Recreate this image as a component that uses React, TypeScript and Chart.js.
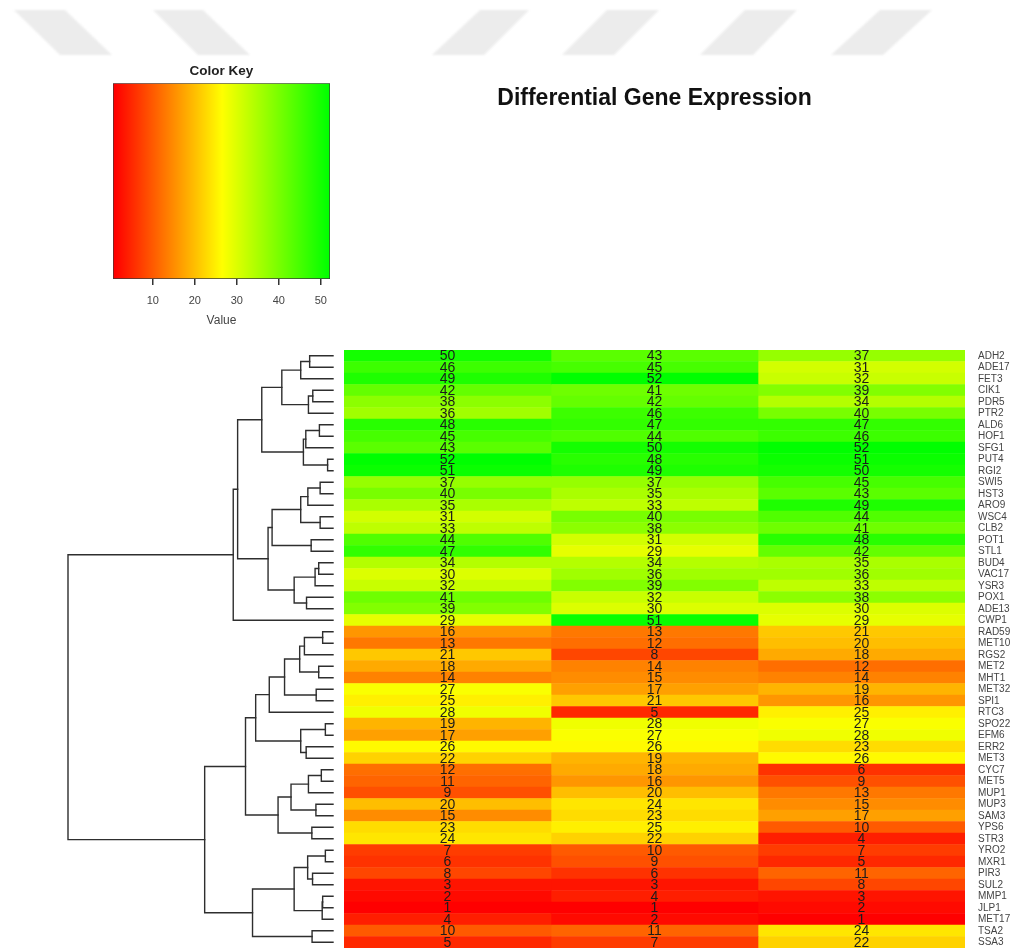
import React, { useEffect, useRef } from "react";
import { Chart, registerables } from "chart.js";

Chart.register(...registerables);

// ---------------- data ----------------
const genes = [
  "ADH2", "ADE17", "FET3", "CIK1", "PDR5", "PTR2", "ALD6", "HOF1", "SFG1", "PUT4",
  "RGI2", "SWI5", "HST3", "ARO9", "WSC4", "CLB2", "POT1", "STL1", "BUD4", "VAC17",
  "YSR3", "POX1", "ADE13", "CWP1", "RAD59", "MET10", "RGS2", "MET2", "MHT1", "MET32",
  "SPI1", "RTC3", "SPO22", "EFM6", "ERR2", "MET3", "CYC7", "MET5", "MUP1", "MUP3",
  "SAM3", "YPS6", "STR3", "YRO2", "MXR1", "PIR3", "SUL2", "MMP1", "JLP1", "MET17",
  "TSA2", "SSA3",
];
const sample1 = [
  50, 46, 49, 42, 38, 36, 48, 45, 43, 52,
  51, 37, 40, 35, 31, 33, 44, 47, 34, 30,
  32, 41, 39, 29, 16, 13, 21, 18, 14, 27,
  25, 28, 19, 17, 26, 22, 12, 11, 9, 20,
  15, 23, 24, 7, 6, 8, 3, 2, 1, 4,
  10, 5,
];
const sample2 = [
  43, 45, 52, 41, 42, 46, 47, 44, 50, 48,
  49, 37, 35, 33, 40, 38, 31, 29, 34, 36,
  39, 32, 30, 51, 13, 12, 8, 14, 15, 17,
  21, 5, 28, 27, 26, 19, 18, 16, 20, 24,
  23, 25, 22, 10, 9, 6, 3, 4, 1, 2,
  11, 7,
];
const sample3 = [
  37, 31, 32, 39, 34, 40, 47, 46, 52, 51,
  50, 45, 43, 49, 44, 41, 48, 42, 35, 36,
  33, 38, 30, 29, 21, 20, 18, 12, 14, 19,
  16, 25, 27, 28, 23, 26, 6, 9, 13, 15,
  17, 10, 4, 7, 5, 11, 8, 3, 2, 1,
  24, 22,
];
const samples = [sample1, sample2, sample3];
const keyTicks = [10, 20, 30, 40, 50];
const valueMin = 1;
const valueMax = 52;

const FONT = "'Liberation Sans', Arial, Helvetica, sans-serif";

function colorFor(v: number): string {
  const t = (v - valueMin) / (valueMax - valueMin);
  if (t <= 0.5) return `rgb(255,${Math.round(510 * t)},0)`;
  return `rgb(${Math.round(255 * (1 - (t - 0.5) * 2))},255,0)`;
}

// complete-linkage hierarchical clustering (Euclidean), as hclust does
type Node = { leaf?: number; left?: Node; right?: Node; h: number };
function clusterRows(rows: number[][]): Node {
  const n = rows.length;
  const d: number[][] = [];
  for (let i = 0; i < n; i++) {
    d.push([]);
    for (let j = 0; j < n; j++) {
      let s = 0;
      for (let k = 0; k < rows[i].length; k++) s += (rows[i][k] - rows[j][k]) ** 2;
      d[i].push(Math.sqrt(s));
    }
  }
  const nodes: (Node | null)[] = rows.map((_, i) => ({ leaf: i, h: 0 }));
  let active = n;
  while (active > 1) {
    let bi = -1, bj = -1, best = Infinity;
    for (let i = 0; i < n; i++) {
      if (!nodes[i]) continue;
      for (let j = i + 1; j < n; j++) {
        if (!nodes[j]) continue;
        if (d[i][j] < best) { best = d[i][j]; bi = i; bj = j; }
      }
    }
    nodes[bi] = { left: nodes[bi]!, right: nodes[bj]!, h: best };
    nodes[bj] = null;
    for (let k = 0; k < n; k++) {
      if (!nodes[k] || k === bi) continue;
      const m = Math.max(d[bi][k], d[bj][k]);
      d[bi][k] = m; d[k][bi] = m;
    }
    active--;
  }
  return nodes.find((x) => x) as Node;
}

const rowVectors = genes.map((_, i) => samples.map((s) => s[i]));
const rowTree = clusterRows(rowVectors);

// ---------------- plugins ----------------
const watermarkPlugin = {
  id: "watermark",
  beforeDraw(chart: any) {
    const ctx = chart.ctx;
    ctx.save();
    ctx.filter = "blur(1.2px)";
    ctx.fillStyle = "#ececec";
    const shapes = [
      [14, 65, 60, 112],
      [153, 203, 198, 250],
      [480, 529, 432, 484],
      [607, 659, 562, 614],
      [745, 797, 700, 753],
      [880, 932, 831, 883],
    ];
    const yTop = 10, yBot = 55;
    for (const [a, b, c, e] of shapes) {
      ctx.beginPath();
      ctx.moveTo(a, yTop);
      ctx.lineTo(b, yTop);
      ctx.lineTo(e, yBot);
      ctx.lineTo(c, yBot);
      ctx.closePath();
      ctx.fill();
    }
    ctx.restore();
  },
};

const cellTextPlugin = {
  id: "cellText",
  afterDatasetsDraw(chart: any) {
    const ctx = chart.ctx;
    const xs = chart.scales.x;
    const ys = chart.scales.y;
    ctx.save();
    ctx.font = `14px ${FONT}`;
    ctx.fillStyle = "#1c1c1c";
    ctx.textAlign = "center";
    ctx.textBaseline = "middle";
    samples.forEach((vals, j) => {
      const x = xs.getPixelForValue(j + 0.5);
      vals.forEach((v, i) => {
        ctx.fillText(String(v), x, ys.getPixelForValue(i) + 0.5);
      });
    });
    ctx.restore();
  },
};

const dendroPlugin = {
  id: "dendro",
  afterDraw(chart: any) {
    const ctx = chart.ctx;
    const ys = chart.scales.y;
    const leafX = chart.chartArea.left - 11;
    const rootX = 68;
    const rootH = rowTree.h;
    const xFor = (h: number) => leafX - (h / rootH) * (leafX - rootX);
    ctx.save();
    ctx.strokeStyle = "#2e2e2e";
    ctx.lineWidth = 1.4;
    ctx.lineCap = "square";
    const walk = (node: Node): { x: number; y: number } => {
      if (node.leaf !== undefined) return { x: leafX, y: ys.getPixelForValue(node.leaf) };
      const a = walk(node.left!);
      const b = walk(node.right!);
      const x = xFor(node.h);
      ctx.beginPath();
      ctx.moveTo(a.x, a.y);
      ctx.lineTo(x, a.y);
      ctx.lineTo(x, b.y);
      ctx.lineTo(b.x, b.y);
      ctx.stroke();
      return { x, y: (a.y + b.y) / 2 };
    };
    walk(rowTree);
    ctx.restore();
  },
};

// ---------------- component ----------------
export default function App() {
  const mainRef = useRef<HTMLCanvasElement | null>(null);
  const keyRef = useRef<HTMLCanvasElement | null>(null);

  useEffect(() => {
    const datasets = samples.map((vals, j) => ({
      label: `Sample ${j + 1}`,
      data: vals.map(() => [j, j + 1]),
      backgroundColor: vals.map(colorFor),
      borderWidth: 0,
      barPercentage: 1,
      categoryPercentage: 1,
      grouped: false,
    }));

    const main = new Chart(mainRef.current!, {
      type: "bar",
      data: { labels: genes, datasets: datasets as any },
      options: {
        indexAxis: "y",
        animation: false,
        responsive: false,
        devicePixelRatio: 1,
        layout: { autoPadding: false, padding: { left: 344, top: 0, right: 0, bottom: 0 } },
        plugins: {
          legend: { display: false },
          tooltip: { enabled: false },
          title: {
            display: true,
            text: "Differential Gene Expression",
            fullSize: false,
            color: "#111",
            font: { family: FONT, size: 23, weight: "bold" },
            padding: { top: 84.5, bottom: 237.9 },
          },
        },
        scales: {
          x: { type: "linear", min: 0, max: 3, display: false },
          y: {
            type: "category",
            position: "right",
            offset: true,
            grid: { display: false, drawTicks: false },
            border: { display: false },
            ticks: {
              autoSkip: false,
              padding: 13,
              color: "#444",
              font: { family: FONT, size: 10 },
            },
            afterFit: (s: any) => {
              s.width = 49;
              s.paddingTop = 0;
              s.paddingBottom = 0;
            },
          },
        },
      } as any,
      plugins: [watermarkPlugin, cellTextPlugin, dendroPlugin],
    });

    const gradientFill = (context: any) => {
      const chart = context.chart;
      const xs = chart.scales?.x;
      if (!chart.chartArea || !xs) return colorFor(valueMin);
      const x0 = xs.getPixelForValue(valueMin);
      const x1 = xs.getPixelForValue(valueMax);
      const g = chart.ctx.createLinearGradient(x0, 0, x1, 0);
      g.addColorStop(0, colorFor(valueMin));
      g.addColorStop(0.25, colorFor(valueMin + (valueMax - valueMin) * 0.25));
      g.addColorStop(0.5, colorFor(valueMin + (valueMax - valueMin) * 0.5));
      g.addColorStop(0.75, colorFor(valueMin + (valueMax - valueMin) * 0.75));
      g.addColorStop(1, colorFor(valueMax));
      return g;
    };

    const key = new Chart(keyRef.current!, {
      type: "bar",
      data: {
        labels: ["key"],
        datasets: [
          {
            label: "Color Key",
            data: [[0.5, 52.2]],
            backgroundColor: gradientFill,
            borderColor: "#3a3a3a",
            borderWidth: 1,
            borderSkipped: false,
            barPercentage: 1,
            categoryPercentage: 1,
          } as any,
        ],
      },
      options: {
        indexAxis: "y",
        animation: false,
        responsive: false,
        devicePixelRatio: 1,
        layout: { autoPadding: false, padding: { left: 13, right: 20, top: 0, bottom: 0 } },
        plugins: {
          legend: { display: false },
          tooltip: { enabled: false },
          title: {
            display: true,
            text: "Color Key",
            color: "#222",
            font: { family: FONT, size: 13.5, weight: "bold" },
            padding: { top: 8, bottom: 4 },
          },
        },
        scales: {
          x: {
            type: "linear",
            min: 0.5,
            max: 52.2,
            afterBuildTicks: (s: any) => {
              s.ticks = keyTicks.map((v) => ({ value: v }));
            },
            afterFit: (s: any) => {
              s.height = 56;
            },
            grid: {
              display: true,
              drawOnChartArea: false,
              drawTicks: true,
              tickLength: 6,
              color: "#333",
              lineWidth: 1.5,
            },
            border: { display: false },
            ticks: { padding: 9, color: "#444", font: { family: FONT, size: 11 } },
            title: {
              display: true,
              text: "Value",
              color: "#444",
              font: { family: FONT, size: 12 },
              padding: { top: 0, bottom: 7 },
            },
          },
          y: { display: false },
        },
      } as any,
    });

    return () => {
      main.destroy();
      key.destroy();
    };
  }, []);

  return (
    <div style={{ position: "absolute", left: 0, top: 0, width: 1014, height: 948, overflow: "hidden", background: "#fff" }}>
      <canvas ref={mainRef} width={1014} height={948} style={{ position: "absolute", left: 0, top: 0 }} />
      <canvas ref={keyRef} width={250} height={280} style={{ position: "absolute", left: 100, top: 55 }} />
    </div>
  );
}
